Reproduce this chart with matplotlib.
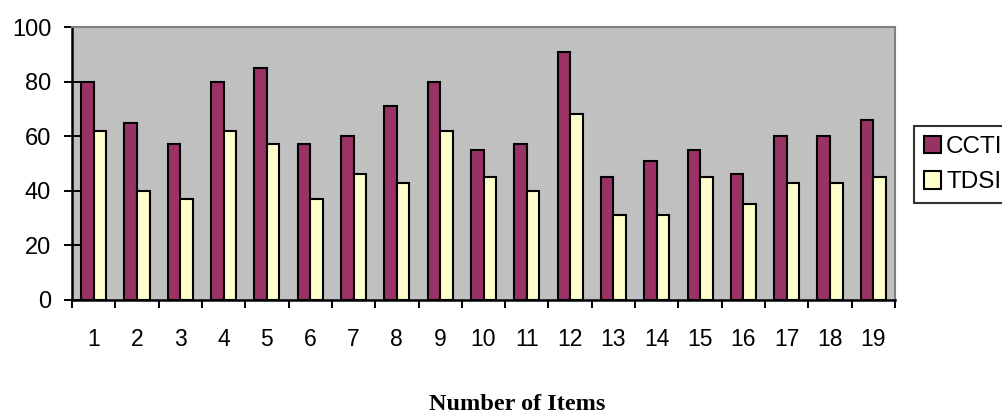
import numpy as np
import matplotlib
matplotlib.use("Agg")
import matplotlib.pyplot as plt

# values
items = [str(i) for i in range(1, 20)]
ccti = [80, 65, 57, 80, 85, 57, 60, 71, 80, 55, 57, 91, 45, 51, 55, 46, 60, 60, 66]
tdsi = [62, 40, 37, 62, 57, 37, 46, 43, 62, 45, 40, 68, 31, 31, 45, 35, 43, 43, 45]

plt.rcParams['font.family'] = ['Liberation Sans', 'DejaVu Sans']

fig = plt.figure(figsize=(10.02, 4.2), dpi=100)
ax = fig.add_axes([72/1002, 1 - 300/420, 823/1002, 273/420])
ax.set_facecolor('#C0C0C0')

x = np.arange(len(items))
w = 0.29
ax.bar(x - w/2, ccti, width=w, color='#993366', edgecolor='black', linewidth=1.5, label='CCTI')
ax.bar(x + w/2, tdsi, width=w, color='#FFFFCC', edgecolor='black', linewidth=1.5, label='TDSI')

ax.set_xlim(-0.5, len(items) - 0.5)
ax.set_ylim(0, 100)

# category labels in the middle, tick marks on group boundaries
ax.set_xticks(x)
ax.set_xticklabels(items, fontsize=16.5)
ax.set_xticks(np.arange(-0.5, len(items)), minor=True)
ax.tick_params(axis='x', which='major', length=0, pad=20)
ax.tick_params(axis='x', which='minor', length=6, width=1.4, direction='out', color='black')

ax.set_yticks(np.arange(0, 101, 20))
ax.tick_params(axis='y', labelsize=17, length=12, width=1.4, direction='inout', pad=9)

for side in ['left', 'bottom']:
    ax.spines[side].set_color('black')
    ax.spines[side].set_linewidth(1.8)
for side in ['top', 'right']:
    ax.spines[side].set_color('#808080')
    ax.spines[side].set_linewidth(1.5)

leg = fig.legend(loc='upper left', bbox_to_anchor=(914/1002, 1 - 126/420), fontsize=17.5,
                 frameon=True, fancybox=False, shadow=False, borderaxespad=0,
                 handlelength=0.72, handleheight=0.72, handletextpad=0.2,
                 labelspacing=0.55, borderpad=0.4)
leg.get_frame().set_edgecolor('black')
leg.get_frame().set_linewidth(1.5)

fig.text(517/1002, 1 - 405/420, 'Number of Items', ha='center', va='center',
         fontsize=17.5, fontweight='bold', family=['Liberation Serif', 'DejaVu Serif'])

fig.savefig('out.png', dpi=100)
